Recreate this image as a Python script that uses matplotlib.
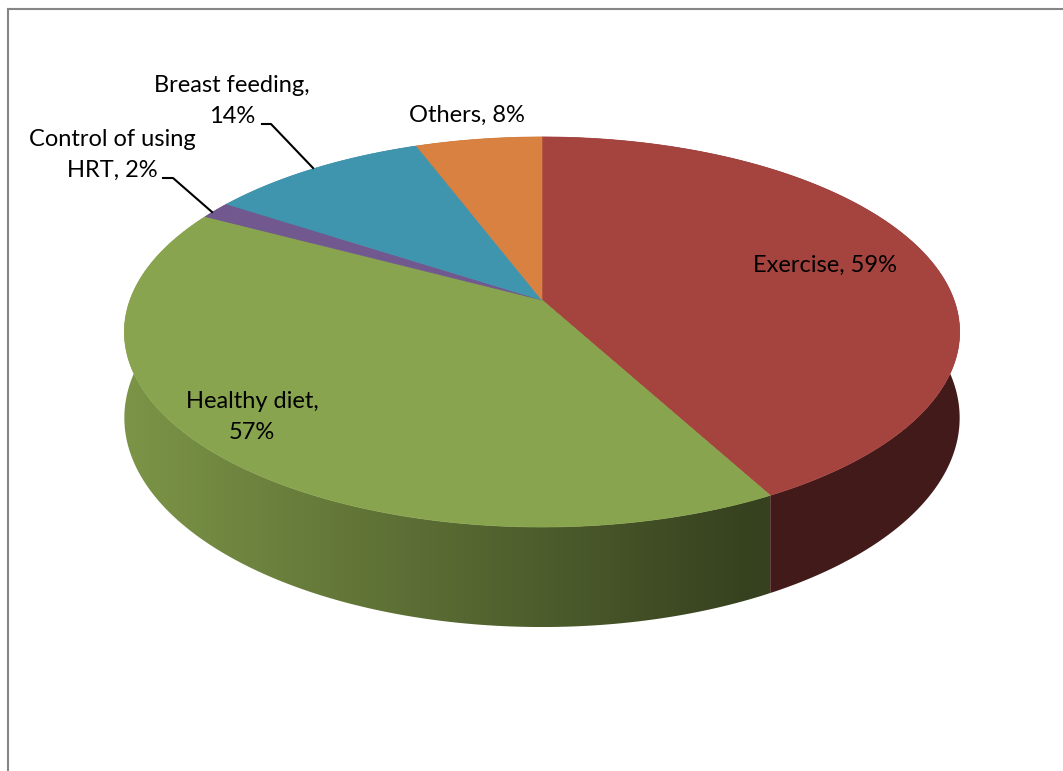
import numpy as np
import matplotlib
matplotlib.use("Agg")
import matplotlib.pyplot as plt
from matplotlib.patches import Polygon
from matplotlib.colors import to_rgb

categories = ["Exercise", "Healthy diet", "Control of using HRT", "Breast feeding", "Others"]
values = [59, 57, 2, 14, 8]
labels = ["Exercise, 59%", "Healthy diet,\n57%", "Control of using\nHRT, 2%",
          "Breast feeding,\n14%", "Others, 8%"]
colors = ["#A5433F", "#89A44E", "#71588F", "#4095AE", "#D88140"]

W, H = 1063, 771
fig = plt.figure(figsize=(W / 100, H / 100), dpi=100)
ax = fig.add_axes([0, 0, 1, 1])
ax.axis("off")

# perspective disk: centre, half width, depth scale, perspective factor, thickness
cx, cy = 542.0, 300.0
A, B, k = 412.0, 189.8, 0.164
depth = 83.6


def rim(theta, down=False):
    # theta measured clockwise from the back of the disk
    x = np.sin(theta)
    z = -np.cos(theta)
    w = 1 - k * z
    X = cx + A * x / w
    Y = cy + B * z / w
    if down:
        Y = Y + depth / w
    return X, Y


def shade(xs):
    return np.clip(0.9 - 0.52 * (xs - 130) / 640, 0.40, 0.9)


frac = np.array(values, dtype=float) / sum(values)
edges = np.concatenate([[0], np.cumsum(frac)]) * 2 * np.pi

# side walls, back ones first
order = np.argsort([-np.cos((edges[i] + edges[i + 1]) / 2) for i in range(len(values))])
for i in order:
    t = np.linspace(edges[i], edges[i + 1], 200)
    xt, yt = rim(t)
    xb, yb = rim(t, down=True)
    pts = np.column_stack([np.r_[xt, xb[::-1]], np.r_[yt, yb[::-1]]])
    poly = Polygon(pts, closed=True, facecolor="none", edgecolor="none")
    ax.add_patch(poly)
    x0, x1 = pts[:, 0].min(), pts[:, 0].max()
    y0, y1 = pts[:, 1].min(), pts[:, 1].max()
    xs = np.linspace(x0, x1, 300)
    img = np.array(to_rgb(colors[i]))[None, None, :] * shade(xs)[None, :, None]
    img = np.repeat(img, 2, axis=0)
    im = ax.imshow(img, extent=(x0, x1, y1, y0), aspect="auto", interpolation="bilinear")
    im.set_clip_path(poly)

# top faces
for i in range(len(values)):
    t = np.linspace(edges[i], edges[i + 1], 300)
    xt, yt = rim(t)
    pts = np.column_stack([np.r_[cx, xt], np.r_[cy, yt]])
    ax.add_patch(Polygon(pts, closed=True, facecolor=colors[i], edgecolor=colors[i], lw=0.5))

font = dict(family=["Lato", "DejaVu Sans"], fontsize=17, color="black",
            ha="center", va="center", linespacing=1.55)
ax.text(825, 265, labels[0], **font)
ax.text(252, 417, labels[1], **font)
ax.text(112, 155, labels[2], **font)
ax.text(232, 101, labels[3], **font)
ax.text(467, 115, labels[4], **font)

# leader lines
ax.plot([262, 271, 313], [124, 124, 168], color="black", lw=1.5)
ax.plot([163, 173, 212], [178, 178, 212], color="black", lw=1.5)

# chart frame
ax.plot([8, 8], [H, 8.5], color="#868686", lw=1.5)
ax.plot([8, W], [8.5, 8.5], color="#868686", lw=1.5)

ax.set_xlim(0, W)
ax.set_ylim(H, 0)
fig.savefig("out.png", dpi=100, facecolor="white")
